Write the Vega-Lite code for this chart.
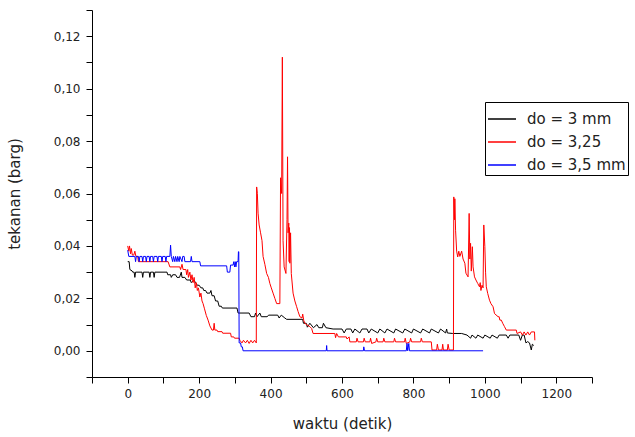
{
  "$schema": "https://vega.github.io/schema/vega-lite/v6.json",
  "width": 500,
  "height": 367,
  "autosize": {"type": "none"},
  "padding": {"left": 92, "top": 10, "right": 43, "bottom": 60},
  "background": "white",
  "config": {
    "view": {"stroke": null},
    "font": "DejaVu Sans",
    "axis": {"grid": false, "domainColor": "#000", "tickColor": "#000", "labelColor": "#222", "titleColor": "#222", "labelFont": "DejaVu Sans", "titleFont": "DejaVu Sans", "titleFontWeight": "normal", "labelFontSize": 12, "titleFontSize": 15, "tickSize": 6, "labelOverlap": false, "labelFlush": false, "labelBound": false},
    "legend": {"orient": "none", "legendX": 393, "legendY": 92, "strokeColor": "#000", "fillColor": "white", "padding": 2, "symbolType": "stroke", "symbolSize": 784, "symbolStrokeWidth": 1.5, "labelFontSize": 15, "labelFont": "DejaVu Sans", "labelColor": "#222", "rowPadding": 0, "labelOffset": 10, "labelLimit": 300}
  },
  "datasets": {
    "d3": [
      {"x":0,"y":0.034},{"x":4,"y":0.034},{"x":6,"y":0.031},{"x":12,"y":0.0305},{"x":14,"y":0.030},{"x":18,"y":0.030},{"x":20,"y":0.028},{"x":22,"y":0.030},{"x":40,"y":0.030},{"x":42,"y":0.028},{"x":44,"y":0.030},{"x":60,"y":0.030},{"x":62,"y":0.028},{"x":64,"y":0.030},{"x":72,"y":0.030},{"x":74,"y":0.028},{"x":76,"y":0.030},{"x":110,"y":0.030},{"x":112,"y":0.029},{"x":120,"y":0.029},{"x":122,"y":0.028},{"x":126,"y":0.029},{"x":134,"y":0.029},{"x":138,"y":0.028},{"x":145,"y":0.028},{"x":150,"y":0.030},{"x":152,"y":0.028},{"x":160,"y":0.028},{"x":165,"y":0.027},{"x":175,"y":0.027},{"x":178,"y":0.026},{"x":185,"y":0.027},{"x":190,"y":0.026},{"x":195,"y":0.025},{"x":200,"y":0.025},{"x":205,"y":0.024},{"x":210,"y":0.024},{"x":213,"y":0.023},{"x":218,"y":0.023},{"x":222,"y":0.022},{"x":230,"y":0.022},{"x":233,"y":0.023},{"x":236,"y":0.021},{"x":242,"y":0.021},{"x":246,"y":0.019},{"x":252,"y":0.019},{"x":256,"y":0.017},{"x":262,"y":0.017},{"x":265,"y":0.0163},{"x":306,"y":0.0163},{"x":309,"y":0.0144},{"x":340,"y":0.0144},{"x":345,"y":0.013},{"x":355,"y":0.013},{"x":358,"y":0.0144},{"x":362,"y":0.013},{"x":370,"y":0.0144},{"x":374,"y":0.013},{"x":390,"y":0.013},{"x":395,"y":0.0136},{"x":420,"y":0.0136},{"x":424,"y":0.0125},{"x":430,"y":0.0136},{"x":440,"y":0.0125},{"x":445,"y":0.012},{"x":490,"y":0.012},{"x":492,"y":0.0105},{"x":500,"y":0.0105},{"x":503,"y":0.009},{"x":510,"y":0.0105},{"x":520,"y":0.0088},{"x":530,"y":0.010},{"x":535,"y":0.0088},{"x":545,"y":0.0088},{"x":548,"y":0.0105},{"x":555,"y":0.0088},{"x":575,"y":0.0083},{"x":600,"y":0.0083},{"x":606,"y":0.0068},{"x":612,"y":0.0083},{"x":625,"y":0.0083},{"x":630,"y":0.0068},{"x":636,"y":0.0083},{"x":650,"y":0.0068},{"x":656,"y":0.0083},{"x":670,"y":0.0083},{"x":675,"y":0.0068},{"x":682,"y":0.0083},{"x":700,"y":0.0068},{"x":706,"y":0.0083},{"x":720,"y":0.0068},{"x":726,"y":0.0083},{"x":745,"y":0.0068},{"x":750,"y":0.0083},{"x":770,"y":0.0068},{"x":776,"y":0.0083},{"x":795,"y":0.0068},{"x":800,"y":0.0083},{"x":820,"y":0.0068},{"x":826,"y":0.0083},{"x":845,"y":0.0068},{"x":850,"y":0.0083},{"x":870,"y":0.0068},{"x":876,"y":0.0083},{"x":890,"y":0.0068},{"x":893,"y":0.0083},{"x":895,"y":0.0068},{"x":910,"y":0.0066},{"x":935,"y":0.0066},{"x":950,"y":0.006},{"x":960,"y":0.0048},{"x":964,"y":0.006},{"x":975,"y":0.0048},{"x":980,"y":0.006},{"x":995,"y":0.0048},{"x":1000,"y":0.006},{"x":1015,"y":0.0048},{"x":1020,"y":0.006},{"x":1035,"y":0.0048},{"x":1040,"y":0.006},{"x":1060,"y":0.006},{"x":1065,"y":0.0048},{"x":1070,"y":0.006},{"x":1095,"y":0.006},{"x":1100,"y":0.004},{"x":1105,"y":0.006},{"x":1110,"y":0.006},{"x":1115,"y":0.003},{"x":1120,"y":0.0035},{"x":1125,"y":0.003},{"x":1130,"y":0.0003},{"x":1133,"y":0.0025},{"x":1137,"y":0.002}
    ],
    "d325": [
      {"x":0,"y":0.040},{"x":3,"y":0.038},{"x":5,"y":0.040},{"x":8,"y":0.037},{"x":10,"y":0.039},{"x":13,"y":0.0365},{"x":17,"y":0.0365},{"x":20,"y":0.038},{"x":23,"y":0.036},{"x":28,"y":0.036},{"x":30,"y":0.034},{"x":113,"y":0.034},{"x":118,"y":0.032},{"x":146,"y":0.032},{"x":148,"y":0.031},{"x":152,"y":0.033},{"x":155,"y":0.031},{"x":163,"y":0.031},{"x":165,"y":0.029},{"x":168,"y":0.031},{"x":170,"y":0.028},{"x":174,"y":0.030},{"x":177,"y":0.027},{"x":180,"y":0.029},{"x":183,"y":0.026},{"x":186,"y":0.028},{"x":189,"y":0.024},{"x":192,"y":0.026},{"x":195,"y":0.023},{"x":198,"y":0.024},{"x":202,"y":0.0205},{"x":205,"y":0.022},{"x":208,"y":0.019},{"x":211,"y":0.018},{"x":215,"y":0.016},{"x":220,"y":0.0135},{"x":225,"y":0.0117},{"x":230,"y":0.0095},{"x":236,"y":0.0079},{"x":240,"y":0.0079},{"x":242,"y":0.0105},{"x":244,"y":0.0079},{"x":250,"y":0.0079},{"x":252,"y":0.0073},{"x":264,"y":0.0073},{"x":266,"y":0.0067},{"x":288,"y":0.0067},{"x":290,"y":0.0053},{"x":297,"y":0.0053},{"x":299,"y":0.0048},{"x":312,"y":0.0048},{"x":314,"y":0.004},{"x":320,"y":0.003},{"x":324,"y":0.004},{"x":330,"y":0.003},{"x":335,"y":0.004},{"x":340,"y":0.0028},{"x":345,"y":0.004},{"x":350,"y":0.003},{"x":355,"y":0.004},{"x":360,"y":0.003},{"x":361,"y":0.0625},{"x":363,"y":0.060},{"x":365,"y":0.0525},{"x":368,"y":0.048},{"x":372,"y":0.045},{"x":376,"y":0.042},{"x":379,"y":0.036},{"x":384,"y":0.033},{"x":389,"y":0.0295},{"x":394,"y":0.028},{"x":398,"y":0.0257},{"x":402,"y":0.024},{"x":407,"y":0.022},{"x":412,"y":0.020},{"x":417,"y":0.018},{"x":426,"y":0.018},{"x":428,"y":0.066},{"x":431,"y":0.060},{"x":433,"y":0.112},{"x":435,"y":0.042},{"x":438,"y":0.032},{"x":443,"y":0.0295},{"x":446,"y":0.050},{"x":447.5,"y":0.074},{"x":449,"y":0.045},{"x":451,"y":0.0487},{"x":452,"y":0.034},{"x":453,"y":0.047},{"x":454,"y":0.0334},{"x":456,"y":0.045},{"x":458,"y":0.0295},{"x":463,"y":0.022},{"x":468,"y":0.019},{"x":473,"y":0.0168},{"x":477,"y":0.015},{"x":482,"y":0.013},{"x":488,"y":0.0125},{"x":490,"y":0.014},{"x":493,"y":0.0115},{"x":496,"y":0.0105},{"x":503,"y":0.0098},{"x":510,"y":0.0092},{"x":515,"y":0.0085},{"x":519,"y":0.0066},{"x":580,"y":0.0066},{"x":582,"y":0.005},{"x":585,"y":0.0066},{"x":590,"y":0.0053},{"x":612,"y":0.0053},{"x":614,"y":0.0045},{"x":620,"y":0.0053},{"x":622,"y":0.0034},{"x":640,"y":0.0034},{"x":642,"y":0.0048},{"x":645,"y":0.0034},{"x":660,"y":0.0034},{"x":662,"y":0.0048},{"x":665,"y":0.0034},{"x":678,"y":0.0034},{"x":680,"y":0.0048},{"x":683,"y":0.0028},{"x":695,"y":0.0034},{"x":697,"y":0.0048},{"x":700,"y":0.0034},{"x":715,"y":0.0034},{"x":717,"y":0.0048},{"x":720,"y":0.0034},{"x":745,"y":0.0034},{"x":747,"y":0.0048},{"x":750,"y":0.0034},{"x":775,"y":0.0034},{"x":777,"y":0.0048},{"x":780,"y":0.0028},{"x":790,"y":0.0034},{"x":792,"y":0.0048},{"x":795,"y":0.0034},{"x":820,"y":0.0034},{"x":822,"y":0.0048},{"x":825,"y":0.0034},{"x":850,"y":0.0034},{"x":852,"y":0.0003},{"x":865,"y":0.0003},{"x":867,"y":0.0025},{"x":870,"y":0.0003},{"x":880,"y":0.0003},{"x":882,"y":0.0025},{"x":884,"y":0.0003},{"x":895,"y":0.0003},{"x":897,"y":0.0025},{"x":900,"y":0.0003},{"x":912,"y":0.0003},{"x":913,"y":0.0587},{"x":915,"y":0.050},{"x":916,"y":0.058},{"x":918,"y":0.046},{"x":921,"y":0.038},{"x":924,"y":0.0358},{"x":927,"y":0.038},{"x":930,"y":0.036},{"x":935,"y":0.038},{"x":939,"y":0.035},{"x":944,"y":0.0334},{"x":947,"y":0.0296},{"x":953,"y":0.0282},{"x":956,"y":0.0524},{"x":958,"y":0.035},{"x":960,"y":0.041},{"x":962,"y":0.0304},{"x":965,"y":0.0397},{"x":967,"y":0.032},{"x":971,"y":0.0282},{"x":975,"y":0.027},{"x":980,"y":0.0257},{"x":985,"y":0.0244},{"x":987,"y":0.026},{"x":989,"y":0.023},{"x":992,"y":0.025},{"x":995,"y":0.024},{"x":997,"y":0.048},{"x":1000,"y":0.0397},{"x":1002,"y":0.030},{"x":1004,"y":0.0244},{"x":1008,"y":0.0219},{"x":1013,"y":0.0193},{"x":1017,"y":0.018},{"x":1023,"y":0.0168},{"x":1027,"y":0.0142},{"x":1037,"y":0.013},{"x":1040,"y":0.013},{"x":1042,"y":0.0117},{"x":1046,"y":0.0117},{"x":1050,"y":0.0105},{"x":1055,"y":0.0092},{"x":1060,"y":0.0079},{"x":1088,"y":0.0079},{"x":1090,"y":0.0066},{"x":1100,"y":0.0072},{"x":1105,"y":0.006},{"x":1110,"y":0.0072},{"x":1115,"y":0.006},{"x":1120,"y":0.0072},{"x":1125,"y":0.006},{"x":1130,"y":0.0072},{"x":1139,"y":0.0072},{"x":1140,"y":0.004}
    ],
    "d35": [
      {"x":0,"y":0.0384},{"x":3,"y":0.036},{"x":20,"y":0.036},{"x":22,"y":0.034},{"x":24,"y":0.036},{"x":30,"y":0.036},{"x":32,"y":0.034},{"x":34,"y":0.036},{"x":40,"y":0.036},{"x":42,"y":0.034},{"x":44,"y":0.036},{"x":50,"y":0.036},{"x":52,"y":0.034},{"x":54,"y":0.036},{"x":60,"y":0.036},{"x":62,"y":0.034},{"x":64,"y":0.036},{"x":70,"y":0.036},{"x":72,"y":0.034},{"x":74,"y":0.036},{"x":82,"y":0.036},{"x":84,"y":0.034},{"x":86,"y":0.036},{"x":94,"y":0.036},{"x":96,"y":0.034},{"x":98,"y":0.036},{"x":105,"y":0.036},{"x":107,"y":0.034},{"x":109,"y":0.036},{"x":118,"y":0.036},{"x":120,"y":0.0403},{"x":122,"y":0.036},{"x":126,"y":0.034},{"x":128,"y":0.036},{"x":132,"y":0.034},{"x":134,"y":0.036},{"x":138,"y":0.034},{"x":140,"y":0.036},{"x":144,"y":0.034},{"x":146,"y":0.036},{"x":152,"y":0.034},{"x":154,"y":0.036},{"x":158,"y":0.036},{"x":160,"y":0.034},{"x":176,"y":0.034},{"x":178,"y":0.036},{"x":180,"y":0.034},{"x":202,"y":0.034},{"x":204,"y":0.0324},{"x":277,"y":0.0324},{"x":279,"y":0.030},{"x":286,"y":0.030},{"x":288,"y":0.0327},{"x":295,"y":0.0327},{"x":297,"y":0.034},{"x":299,"y":0.032},{"x":301,"y":0.034},{"x":303,"y":0.032},{"x":305,"y":0.034},{"x":309,"y":0.034},{"x":310,"y":0.0378},{"x":311,"y":0.0378},{"x":312,"y":0.003},{"x":316,"y":0.003},{"x":318,"y":0.0015},{"x":321,"y":0.0015},{"x":323,"y":0.0},{"x":556,"y":0.0},{"x":557,"y":0.002},{"x":558,"y":0.0},{"x":660,"y":0.0},{"x":661,"y":0.0015},{"x":663,"y":0.0},{"x":780,"y":0.0},{"x":782,"y":0.0028},{"x":784,"y":0.0},{"x":787,"y":0.0028},{"x":789,"y":0.0},{"x":995,"y":0.0}
    ]
  },
  "encoding": {
    "x": {"field": "x", "type": "quantitative", "title": "waktu (detik)",
      "scale": {"domain": [-100, 1300], "nice": false, "zero": false},
      "axis": {"values": [-100,0,100,200,300,400,500,600,700,800,900,1000,1100,1200,1300], "labelExpr": "datum.value % 200 === 0 ? '' + datum.value : ''", "labelPadding": 5, "titlePadding": 17}},
    "y": {"field": "y", "type": "quantitative", "title": "tekanan (barg)",
      "scale": {"domain": [-0.01, 0.13], "nice": false, "zero": false},
      "axis": {"values": [-0.01,0,0.01,0.02,0.03,0.04,0.05,0.06,0.07,0.08,0.09,0.1,0.11,0.12,0.13], "labelExpr": "round(datum.value*100) % 2 === 0 ? replace(format(datum.value, '.2f'), '.', ',') : ''", "labelPadding": 6, "titlePadding": 31}}
  },
  "layer": [
    {"data": {"name": "d3"}, "mark": {"type": "line", "strokeWidth": 1, "clip": true},
     "encoding": {"color": {"datum": "do = 3 mm", "type": "nominal", "title": null, "scale": {"domain": ["do = 3 mm", "do = 3,25", "do = 3,5 mm"], "range": ["#000000", "#ff0000", "#0000ff"]}}}},
    {"data": {"name": "d325"}, "mark": {"type": "line", "strokeWidth": 1, "clip": true},
     "encoding": {"color": {"datum": "do = 3,25", "type": "nominal"}}},
    {"data": {"name": "d35"}, "mark": {"type": "line", "strokeWidth": 1, "clip": true},
     "encoding": {"color": {"datum": "do = 3,5 mm", "type": "nominal"}}}
  ]
}
